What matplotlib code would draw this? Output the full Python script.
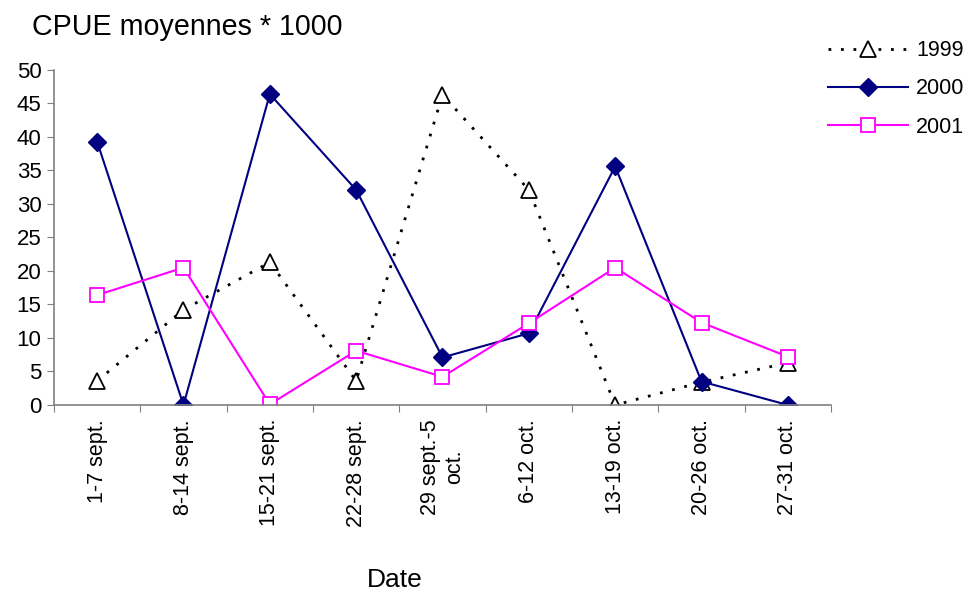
import matplotlib.pyplot as plt
import numpy as np

plt.rcParams["font.family"] = ["Liberation Sans", "DejaVu Sans"]

# weekly periods and mean CPUE (x1000) per season
periods = ["1-7 sept.", "8-14 sept.", "15-21 sept.", "22-28 sept.",
           "29 sept.-5\noct.", "6-12 oct.", "13-19 oct.", "20-26 oct.",
           "27-31 oct."]
cpue_1999 = [3.6, 14.2, 21.3, 3.6, 46.3, 32.1, 0.0, 3.4, 6.3]
cpue_2000 = [39.3, 0.0, 46.4, 32.1, 7.1, 10.7, 35.6, 3.5, 0.0]
cpue_2001 = [16.4, 20.5, 0.1, 8.1, 4.2, 12.2, 20.5, 12.3, 7.2]

fig = plt.figure(figsize=(9.67, 5.92), dpi=100)
ax = fig.add_axes([0.0558, 0.3159, 0.8036, 0.5659])

x = np.arange(len(periods))
ax.plot(x, cpue_1999, color="black", linestyle=(0, (1, 3.5)), linewidth=2,
        marker="^", markersize=12, markerfacecolor="white",
        markeredgecolor="black", markeredgewidth=1.3, label="1999")
ax.plot(x, cpue_2000, color="#000080", linewidth=1.5,
        marker="D", markersize=9, markerfacecolor="#000080",
        markeredgecolor="#000080", label="2000")
ax.plot(x, cpue_2001, color="#FF00FF", linewidth=1.5,
        marker="s", markersize=10.5, markerfacecolor="white",
        markeredgecolor="#FF00FF", markeredgewidth=1.3, label="2001")

ax.set_xlim(-0.5, len(periods) - 0.5)
ax.set_ylim(0, 50)
ax.set_yticks(np.arange(0, 51, 5))
ax.tick_params(axis="y", labelsize=16, length=5, color="#808080", direction="out", pad=4)

# ticks sit on the category boundaries, labels in the middle
ax.set_xticks(np.arange(len(periods) + 1) - 0.5)
ax.set_xticklabels([])
ax.set_xticks(x, minor=True)
ax.set_xticklabels(periods, minor=True, rotation=90, fontsize=15.5,
                   ha="center", va="top", multialignment="center")
ax.tick_params(axis="x", which="major", length=5, color="#808080", direction="out")
ax.tick_params(axis="x", which="minor", length=0, pad=10)

for side in ["top", "right"]:
    ax.spines[side].set_visible(False)
for side in ["left", "bottom"]:
    ax.spines[side].set_color("#808080")
    ax.spines[side].set_linewidth(1.2)

fig.text(0.033, 0.955, "CPUE moyennes * 1000", fontsize=20.6, ha="left", va="center")
fig.text(0.408, 0.02, "Date", fontsize=19, ha="center", va="center")

ax.legend(loc="upper left", bbox_to_anchor=(0.985, 1.115), frameon=False,
          fontsize=15.5, handlelength=3.7, handletextpad=0.4, labelspacing=0.8,
          borderaxespad=0)

fig.savefig("out.png", dpi=100)
